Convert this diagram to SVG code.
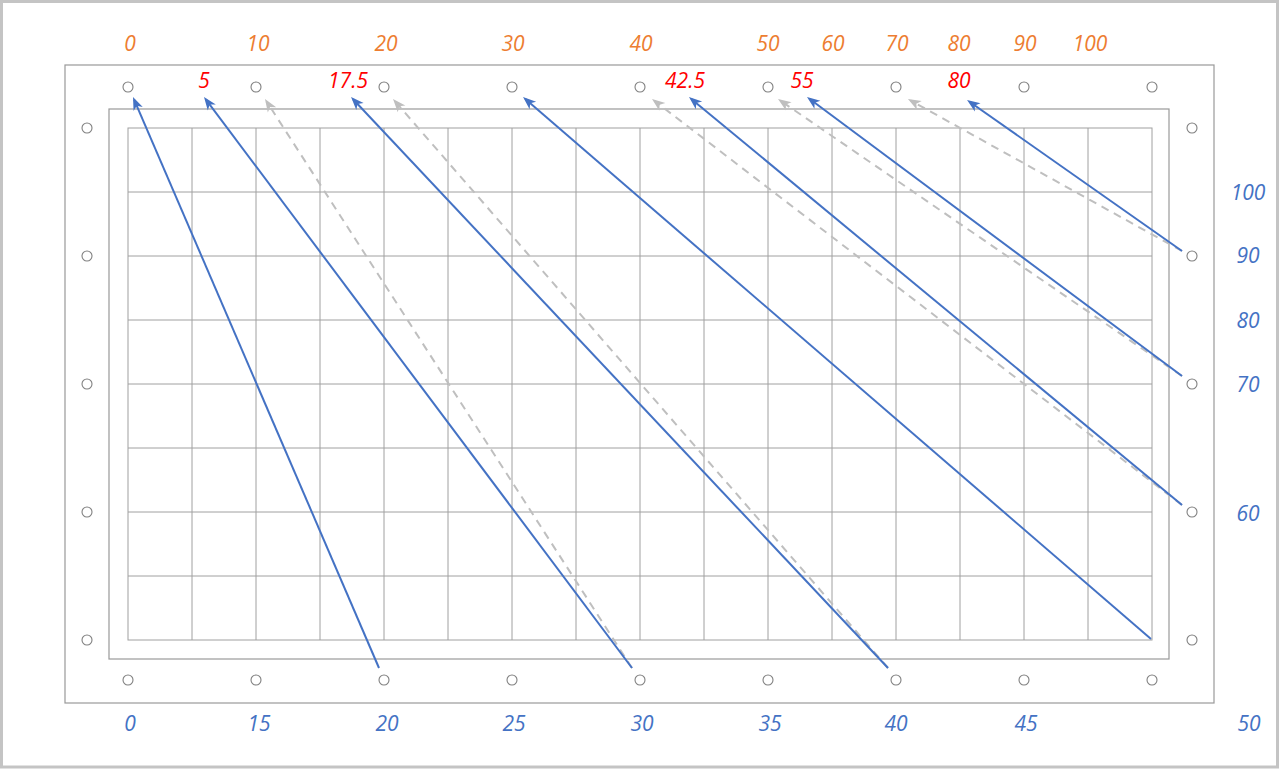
<svg xmlns="http://www.w3.org/2000/svg" width="1280" height="769" viewBox="0 0 1280 769">
<style>
.frame{fill:#fff;stroke:#c4c4c4;stroke-width:3}
.box{fill:none;stroke:#999;stroke-width:1.2}
.grid{stroke:#a0a0a0;stroke-width:1;fill:none}
.pt{fill:#fff;stroke:#808080;stroke-width:1.1}
.t{font-family:"Open Sans","Liberation Sans",sans-serif;font-style:italic;font-size:21px;text-anchor:middle}
.or{fill:#ED7D31}.rd{fill:#FF0000}.bl{fill:#4472C4}
.blue{stroke:#4472C4;stroke-width:2;fill:none}
.gray{stroke:#BFBFBF;stroke-width:2;fill:none;stroke-dasharray:8 6}
</style>
<defs>
<marker id="ab" markerUnits="userSpaceOnUse" markerWidth="14" markerHeight="10" refX="10" refY="5" orient="auto" overflow="visible">
<path d="M0,0 L13,5 L0,10 L3.5,5 Z" fill="#4472C4"/>
</marker>
<marker id="ag" markerUnits="userSpaceOnUse" markerWidth="14" markerHeight="10" refX="10" refY="5" orient="auto" overflow="visible">
<path d="M0,0 L13,5 L0,10 L3.5,5 Z" fill="#BFBFBF"/>
</marker>
</defs>
<rect class="frame" x="1.5" y="1.5" width="1276" height="765.5"/>
<g id="outer-rect"><rect class="box" x="65" y="65" width="1149" height="638"/></g>
<g id="middle-rect"><rect class="box" x="109" y="109" width="1060" height="550"/></g>
<g id="grid">
<rect class="grid" x="128" y="128" width="1024" height="512"/>
<path class="grid" d="M192,128V640M256,128V640M320,128V640M384,128V640M448,128V640M512,128V640M576,128V640M640,128V640M704,128V640M768,128V640M832,128V640M896,128V640M960,128V640M1024,128V640M1088,128V640M128,192H1152M128,256H1152M128,320H1152M128,384H1152M128,448H1152M128,512H1152M128,576H1152"/>
</g>
<g id="points-top">
<circle class="pt" cx="128" cy="87" r="5"/><circle class="pt" cx="256" cy="87" r="5"/><circle class="pt" cx="384" cy="87" r="5"/><circle class="pt" cx="512" cy="87" r="5"/><circle class="pt" cx="640" cy="87" r="5"/><circle class="pt" cx="768" cy="87" r="5"/><circle class="pt" cx="896" cy="87" r="5"/><circle class="pt" cx="1024" cy="87" r="5"/><circle class="pt" cx="1152" cy="87" r="5"/>
</g>
<g id="points-bottom">
<circle class="pt" cx="128" cy="680" r="5"/><circle class="pt" cx="256" cy="680" r="5"/><circle class="pt" cx="384" cy="680" r="5"/><circle class="pt" cx="512" cy="680" r="5"/><circle class="pt" cx="640" cy="680" r="5"/><circle class="pt" cx="768" cy="680" r="5"/><circle class="pt" cx="896" cy="680" r="5"/><circle class="pt" cx="1024" cy="680" r="5"/><circle class="pt" cx="1152" cy="680" r="5"/>
</g>
<g id="points-left">
<circle class="pt" cx="87" cy="128" r="5"/><circle class="pt" cx="87" cy="256" r="5"/><circle class="pt" cx="87" cy="384" r="5"/><circle class="pt" cx="87" cy="512" r="5"/><circle class="pt" cx="87" cy="640" r="5"/>
</g>
<g id="points-right">
<circle class="pt" cx="1192" cy="128" r="5"/><circle class="pt" cx="1192" cy="256" r="5"/><circle class="pt" cx="1192" cy="384" r="5"/><circle class="pt" cx="1192" cy="512" r="5"/><circle class="pt" cx="1192" cy="640" r="5"/>
</g>
<g id="connectors">
<line class="gray" x1="632" y1="668" x2="266.6" y2="101.5" marker-end="url(#ag)"/>
<line class="gray" x1="888" y1="668" x2="395" y2="101.3" marker-end="url(#ag)"/>
<line class="gray" x1="1182" y1="505" x2="654.4" y2="100.8" marker-end="url(#ag)"/>
<line class="gray" x1="1182" y1="376" x2="780.5" y2="100.7" marker-end="url(#ag)"/>
<line class="gray" x1="1182" y1="251" x2="910.6" y2="100.5" marker-end="url(#ag)"/>
<line class="blue" x1="379" y1="668" x2="134.2" y2="99.8" marker-end="url(#ab)"/>
<line class="blue" x1="632" y1="668" x2="205.8" y2="99.4" marker-end="url(#ab)"/>
<line class="blue" x1="888" y1="668" x2="353.1" y2="99.2" marker-end="url(#ab)"/>
<line class="blue" x1="1151" y1="639" x2="525.3" y2="99" marker-end="url(#ab)"/>
<line class="blue" x1="1182" y1="505" x2="691.3" y2="98.9" marker-end="url(#ab)"/>
<line class="blue" x1="1182" y1="376" x2="809.4" y2="98.8" marker-end="url(#ab)"/>
<line class="blue" x1="1182" y1="251" x2="969.5" y2="101.7" marker-end="url(#ab)"/>
</g>
<g id="labels-top" class="t or">
<text x="130" y="51">0</text><text x="258" y="51">10</text><text x="386" y="51">20</text><text x="513" y="51">30</text><text x="641" y="51">40</text><text x="768" y="51">50</text><text x="833" y="51">60</text><text x="897" y="51">70</text><text x="959" y="51">80</text><text x="1025" y="51">90</text><text x="1090" y="51">100</text>
</g>
<g id="labels-red" class="t rd">
<text x="204" y="88">5</text><text x="348" y="88">17.5</text><text x="685" y="88">42.5</text><text x="802" y="88">55</text><text x="959" y="88">80</text>
</g>
<g id="labels-bottom" class="t bl">
<text x="130" y="731">0</text><text x="259" y="731">15</text><text x="387" y="731">20</text><text x="514" y="731">25</text><text x="642" y="731">30</text><text x="770" y="731">35</text><text x="896" y="731">40</text><text x="1026" y="731">45</text><text x="1249" y="731">50</text>
</g>
<g id="labels-right" class="t bl">
<text x="1248" y="200">100</text><text x="1248" y="263">90</text><text x="1248" y="328">80</text><text x="1248" y="392">70</text><text x="1248" y="521">60</text>
</g>
</svg>
